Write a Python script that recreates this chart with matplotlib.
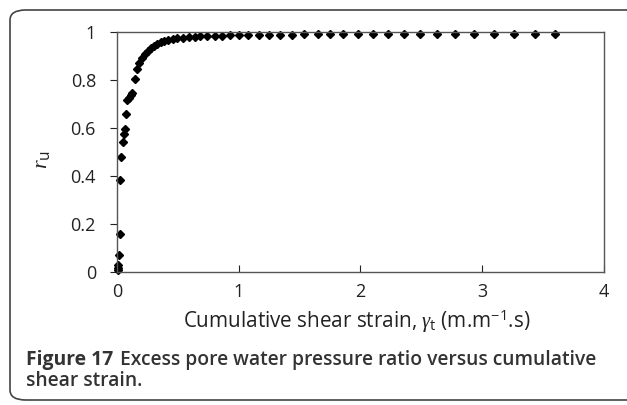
import numpy as np
import matplotlib.pyplot as plt
from matplotlib.patches import FancyBboxPatch

# cumulative shear strain (m.m-1.s) and excess pore pressure ratio
strain = [0.008, 0.008, 0.010, 0.020, 0.027, 0.027, 0.038, 0.049, 0.057, 0.068,
          0.074, 0.087, 0.100, 0.114, 0.128, 0.150, 0.169, 0.185, 0.207, 0.232,
          0.253, 0.278, 0.305, 0.332, 0.360, 0.390, 0.420, 0.458, 0.496, 0.545,
          0.594, 0.640, 0.687, 0.741, 0.804, 0.866, 0.930, 1.00, 1.08, 1.17,
          1.25, 1.34, 1.44, 1.54, 1.65, 1.75, 1.86, 1.98, 2.10, 2.23,
          2.36, 2.49, 2.63, 2.78, 2.93, 3.10, 3.26, 3.43, 3.60]
ru = [0.007, 0.018, 0.028, 0.070, 0.157, 0.382, 0.479, 0.542, 0.576, 0.594,
      0.657, 0.715, 0.726, 0.736, 0.746, 0.806, 0.844, 0.871, 0.892, 0.910,
      0.921, 0.933, 0.942, 0.951, 0.957, 0.962, 0.968, 0.971, 0.974, 0.976,
      0.979, 0.981, 0.982, 0.983, 0.985, 0.985, 0.986, 0.986, 0.987, 0.988,
      0.988, 0.989, 0.989, 0.990, 0.990, 0.990, 0.991, 0.991, 0.992, 0.992,
      0.992, 0.992, 0.993, 0.993, 0.993, 0.993, 0.993, 0.993, 0.993]
xticks = [0, 1, 2, 3, 4]
yticks = [0, 0.2, 0.4, 0.6, 0.8, 1]
ytick_labels = ['0', '0.2', '0.4', '0.6', '0.8', '1']

plt.rcParams['font.family'] = ['Open Sans', 'DejaVu Sans']
plt.rcParams['mathtext.fontset'] = 'custom'
plt.rcParams['mathtext.rm'] = 'Open Sans'
plt.rcParams['mathtext.it'] = 'Liberation Serif:italic'

W, H = 627, 405
fig = plt.figure(figsize=(W / 100, H / 100), dpi=100)
ax = fig.add_axes([116.8 / W, 1 - 272 / H, 487.2 / W, 240 / H])

ax.plot(strain, ru, 'D', color='black', markersize=3.6, linestyle='none',
        clip_on=False)

ax.set_xlim(0, 4)
ax.set_ylim(0, 1)
ax.set_xticks(xticks)
ax.set_xticklabels([str(v) for v in xticks])
ax.set_yticks(yticks)
ax.set_yticklabels(ytick_labels)
ax.tick_params(axis='x', direction='in', length=5, labelsize=13, pad=8,
               colors='#222222')
ax.tick_params(axis='y', direction='out', length=5, labelsize=13, pad=10,
               colors='#222222')
for s in ax.spines.values():
    s.set_color('#555555')
    s.set_linewidth(1.0)

ax.set_xlabel(r'Cumulative shear strain, $\mathit{\gamma}_\mathrm{t}$ (m.m$^{-1}$.s)',
              fontsize=13, color='#222222')
ax.xaxis.set_label_coords((357 - 116.8) / 487.2, (272 - 321) / 240)
ax.xaxis.label.set_va('center')
ax.set_ylabel(r'$r_\mathrm{u}$', fontsize=16, color='#222222')
ax.yaxis.set_label_coords((42 - 116.8) / 487.2, (272 - 160) / 240)
ax.yaxis.label.set_va('center')

cap1a = fig.text(26 / W, 1 - 365 / H, 'Figure 17', fontsize=13,
                 fontweight='bold', color='#333333', va='baseline')
cap1b = fig.text(120 / W, 1 - 365 / H,
                 'Excess pore water pressure ratio versus cumulative',
                 fontsize=13, fontweight='semibold', color='#333333',
                 va='baseline')
cap2 = fig.text(26 / W, 1 - 386 / H, 'shear strain.', fontsize=13,
                fontweight='semibold', color='#333333', va='baseline')

# fit text widths to the reference
r = fig.canvas.get_renderer()
def fit(t, target):
    w = t.get_window_extent(r).width
    t.set_fontsize(t.get_fontsize() * target / w)

fit(ax.xaxis.label, 347)
fit(cap1b, 595 - 120)
fa = cap1a.get_window_extent(r).width
cap1a.set_fontsize(cap1a.get_fontsize() * 90 / fa)
cap2.set_fontsize(cap1b.get_fontsize())
cap1a.set_fontsize(cap1b.get_fontsize())

box = FancyBboxPatch((10 / W, 5 / H), 1.1, (395 - 5) / H,
                     boxstyle='round,pad=0,rounding_size=0.025',
                     transform=fig.transFigure, fill=False,
                     edgecolor='#444444', linewidth=1.2)
fig.patches.append(box)

fig.savefig('out.png', dpi=100)
